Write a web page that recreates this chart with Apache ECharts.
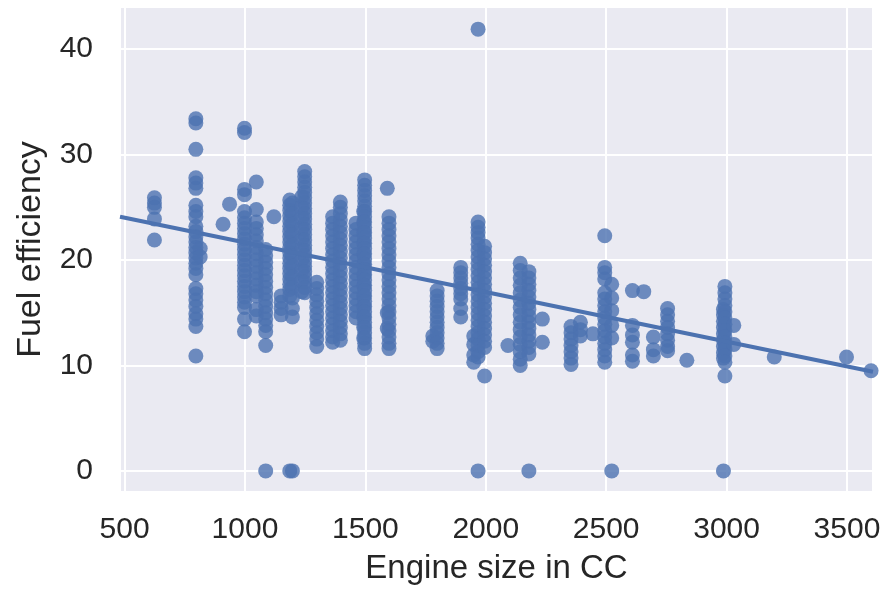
<!DOCTYPE html>
<html>
<head>
<meta charset="utf-8">
<script src="https://cdn.jsdelivr.net/npm/echarts@6/dist/echarts.min.js"></script>
<style>
  html, body { margin: 0; padding: 0; background: #fff; }
  #chart { width: 888px; height: 590px; }
</style>
</head>
<body>
<div id="chart"></div>
<script>
// engine sizes (cc) and the fuel efficiency readings seen at each one
var engineSizes = [624, 796, 814, 909, 936, 998, 1047, 1086, 1120, 1150, 1186, 1197, 1236, 1248,
    1298, 1364, 1396, 1461, 1493, 1497, 1591, 1598, 1780, 1798, 1896, 1950, 1968, 1995, 2092,
    2143, 2179, 2235, 2354, 2393, 2445, 2494, 2523, 2609, 2656, 2696, 2755, 2835, 2987, 2993,
    3030, 3198, 3498, 3600];

var mileage = [
    [25.9, 25.4, 25.0, 23.9, 21.9],
    [33.4, 33.0, 30.5, 27.8, 27.3, 26.8, 25.2, 24.6, 24.1, 23.2, 22.7, 22.2, 21.7, 21.2, 20.7, 20.2, 19.7, 19.2, 18.6, 17.3, 16.8, 16.2, 15.6, 14.9, 14.4, 13.7, 10.9],
    [21.1, 20.3],
    [23.4],
    [25.3],
    [32.5, 32.1, 26.7, 26.2, 24.6, 24.0, 23.5, 23.0, 22.5, 22.0, 21.5, 21.0, 20.5, 20.0, 19.5, 19.0, 18.5, 18.0, 17.5, 17.0, 16.5, 16.0, 15.5, 14.4, 13.2],
    [27.4, 24.8, 23.6, 23.0, 22.4, 21.8, 21.2, 20.6, 20.0, 19.4, 18.8, 18.2, 17.6, 17.0, 16.6, 15.3, 14.7],
    [21.0, 20.4, 19.8, 19.2, 18.6, 18.0, 17.4, 16.8, 16.2, 15.6, 15.0, 14.4, 13.8, 13.2, 11.9, 0],
    [24.1],
    [16.6, 16.0, 15.4, 14.8],
    [25.7, 25.2, 24.7, 24.2, 23.7, 23.2, 22.7, 22.2, 21.7, 21.2, 20.7, 20.2, 19.7, 19.2, 18.7, 18.2, 17.7, 17.2, 16.6, 0],
    [25.4, 24.4, 23.4, 22.4, 21.4, 20.4, 19.4, 18.4, 17.4, 16.4, 15.4, 14.6, 0],
    [26.0, 25.0, 24.0, 23.0, 22.0, 21.0, 20.0, 19.0, 18.0, 17.0],
    [28.4, 27.9, 27.4, 26.9, 26.4, 25.9, 25.4, 24.9, 24.4, 23.9, 23.4, 22.9, 22.4, 21.9, 21.4, 20.9, 20.4, 19.9, 19.4, 18.9, 18.4, 17.9, 17.4, 16.9],
    [17.9, 17.3, 16.7, 16.1, 15.5, 14.9, 14.3, 13.7, 13.1, 12.5, 11.8],
    [24.1, 23.5, 22.9, 22.3, 21.7, 21.1, 20.5, 19.9, 19.3, 18.7, 18.1, 17.5, 16.9, 16.3, 15.7, 15.1, 14.5, 13.9, 13.3, 12.7, 12.2],
    [25.5, 25.0, 24.4, 23.8, 23.2, 22.6, 22.0, 21.4, 20.8, 20.2, 19.6, 19.0, 18.4, 17.8, 17.2, 16.6, 16.0, 15.4, 14.8, 14.2, 13.6, 13.0, 12.4],
    [23.5, 22.9, 22.3, 21.7, 21.1, 20.5, 19.9, 19.3, 18.7, 18.1, 17.5, 16.9, 16.3, 15.7, 15.1, 14.5],
    [24.6, 23.6, 22.6, 21.6, 20.6, 19.6, 18.6, 17.6, 16.6, 15.6, 14.6, 13.6, 12.6],
    [27.6, 27.1, 26.6, 26.1, 25.6, 25.1, 24.6, 24.1, 23.6, 23.1, 22.6, 22.1, 21.6, 21.1, 20.6, 20.1, 19.6, 19.1, 18.6, 18.1, 17.6, 17.1, 16.6, 16.1, 15.6, 15.1, 14.6, 14.1, 13.6, 13.1, 12.6, 12.1, 11.6],
    [26.8, 15.0, 13.5],
    [24.1, 23.5, 22.9, 22.3, 21.7, 21.1, 20.5, 19.9, 19.3, 18.7, 18.1, 17.5, 16.9, 16.3, 15.7, 15.1, 14.5, 13.9, 13.3, 12.7, 12.1, 11.6],
    [12.8, 12.3],
    [17.1, 16.6, 16.1, 15.6, 15.1, 14.6, 14.1, 13.6, 13.1, 12.6, 12.1, 11.6],
    [19.3, 18.8, 18.3, 17.8, 17.3, 16.8, 16.3, 15.4, 14.6],
    [12.8, 12.0, 11.0, 10.3],
    [41.9, 23.6, 23.1, 22.6, 22.1, 21.5, 20.9, 20.3, 19.7, 19.1, 18.5, 17.9, 17.3, 16.7, 16.1, 15.5, 14.9, 14.3, 13.7, 13.1, 12.5, 11.9, 11.3, 10.8, 0],
    [21.3, 20.7, 20.1, 19.5, 18.9, 18.3, 17.7, 17.1, 16.5, 15.9, 15.3, 14.7, 14.1, 13.5, 12.9, 12.3, 11.7, 9.0],
    [11.9],
    [19.7, 19.0, 18.3, 17.6, 16.9, 16.2, 15.5, 14.8, 14.1, 13.4, 12.7, 12.0, 11.3, 10.6, 10.0],
    [18.9, 18.3, 17.7, 17.1, 16.5, 15.9, 15.3, 14.7, 14.1, 13.5, 12.9, 12.3, 11.7, 11.1, 0],
    [14.4, 12.2],
    [13.7, 13.1, 12.5, 11.9, 11.3, 10.7, 10.1],
    [14.1, 13.4, 12.8],
    [13.0],
    [22.3, 19.3, 18.8, 18.2, 16.9, 16.3, 15.7, 15.1, 14.5, 13.9, 13.3, 12.7, 12.1, 11.5, 10.9, 10.3],
    [17.7, 16.4, 15.2, 13.8, 12.6, 0],
    [17.1, 13.8, 12.9, 12.2, 11.0, 10.4],
    [17.0],
    [12.7, 11.5, 10.9],
    [15.4, 14.8, 14.2, 13.6, 13.0, 12.4, 11.8, 11.4],
    [10.5],
    [15.3, 14.8, 14.2, 13.6, 13.0, 12.4, 11.8, 11.2, 10.7, 0],
    [17.5, 16.9, 16.3, 15.7, 15.1, 14.5, 13.9, 13.3, 12.7, 12.1, 11.5, 10.9, 10.3, 9.0],
    [13.8, 12.0],
    [10.8],
    [10.8],
    [9.5]
];

// fitted regression line, end points at the axis limits
var fitX = [481, 3608];
var fitY = [24.1, 9.4];

var points = [];
engineSizes.forEach(function (cc, i) {
    mileage[i].forEach(function (v) {
        points.push([cc, v]);
    });
});
var fitLine = fitX.map(function (x, i) { return [x, fitY[i]]; });

var textColor = '#262626';
var myChart = echarts.init(document.getElementById('chart'));
var option = {
    backgroundColor: '#ffffff',
    animation: false,
    grid: {
        left: 120, right: 15, top: 7, bottom: 96,
        show: true,
        backgroundColor: '#EAEAF2',
        borderWidth: 0
    },
    xAxis: {
        type: 'value',
        min: 481,
        max: 3608,
        splitNumber: 6,
        name: 'Engine size in CC',
        nameLocation: 'middle',
        nameGap: 60,
        nameTextStyle: { fontFamily: 'Liberation Sans', fontSize: 33, color: textColor },
        axisLine: { show: false },
        axisTick: { show: false },
        axisLabel: {
            fontFamily: 'Liberation Sans', fontSize: 30, color: textColor, margin: 23,
            showMinLabel: false, showMaxLabel: false,
            formatter: function (v) { return String(v); }
        },
        splitLine: { show: true, lineStyle: { color: '#ffffff', width: 2 } }
    },
    yAxis: {
        type: 'value',
        min: -2,
        max: 44,
        name: 'Fuel efficiency',
        nameLocation: 'middle',
        nameGap: 72,
        nameTextStyle: { fontFamily: 'Liberation Sans', fontSize: 34, color: textColor },
        axisLine: { show: false },
        axisTick: { show: false },
        axisLabel: {
            fontFamily: 'Liberation Sans', fontSize: 30, color: textColor, margin: 27,
            showMinLabel: false, showMaxLabel: false
        },
        splitLine: { show: true, lineStyle: { color: '#ffffff', width: 2 } }
    },
    series: [
        {
            type: 'scatter',
            data: points,
            symbolSize: 15,
            itemStyle: { color: '#4C72B0', opacity: 0.8 }
        },
        {
            type: 'line',
            data: fitLine,
            symbol: 'none',
            z: 3,
            lineStyle: { color: '#4C72B0', width: 4 }
        }
    ]
};
myChart.setOption(option);
</script>
</body>
</html>
